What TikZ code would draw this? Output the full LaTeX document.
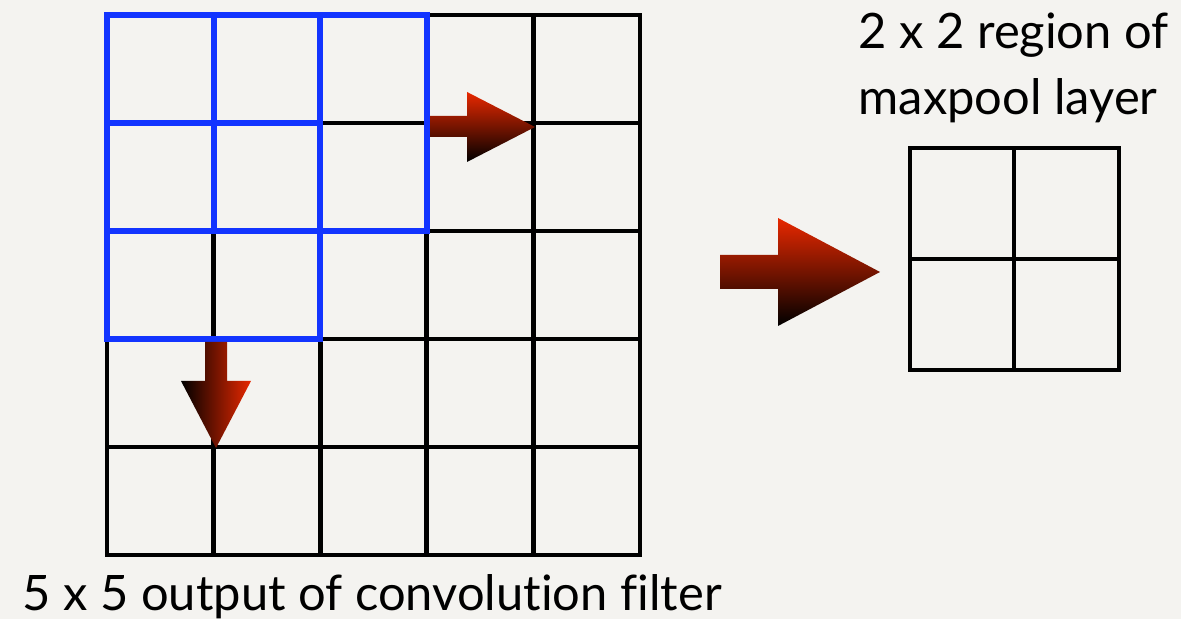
\documentclass[tikz,border=0pt]{standalone}
\usepackage{fontspec}
\setmainfont{Lato}[Ligatures=NoCommon]
\definecolor{paper}{RGB}{244,243,240}
\definecolor{winblue}{RGB}{18,52,255}
\definecolor{arrowred}{RGB}{232,40,0}
\tikzset{
  gridline/.style={line width=1.4pt, line cap=rect},
  window/.style={draw=winblue, line width=1.7pt},
  gradarrow/.style={top color=arrowred, bottom color=black},
  caption/.style={font=\fontsize{13.9}{16}\selectfont, anchor=base west, inner sep=0pt}
}
\begin{document}
\begin{tikzpicture}
  \fill[paper] (0,0) rectangle (11.81,6.19);
  \useasboundingbox (0,0) rectangle (11.81,6.19);
  % convolution output, 5 x 5
  \begin{scope}[shift={(1.07,0.64)}, x=1.066cm, y=1.08cm]
    \foreach \i in {0,...,5} {
      \draw[gridline] (\i,0) -- (\i,5);
      \draw[gridline] (0,\i) -- (5,\i);
    }
    \draw[window] (0,3) rectangle (2,5);
    \draw[window] (1,3) rectangle (3,5);
    \draw[window] (0,2) rectangle (2,4);
  \end{scope}
  % maxpool region, 2 x 2
  \coordinate (P) at (9.10,2.49); \coordinate (Q) at (11.19,4.71);
  \draw[gridline] (P) rectangle (Q);
  \draw[gridline] (10.14,2.49) -- (10.14,4.71);
  \draw[gridline] (9.10,3.60) -- (11.19,3.60);
  % shift arrows
  \shade[gradarrow] (4.30,5.03) -- (4.67,5.03) -- (4.67,5.27) -- (5.35,4.92) -- (4.67,4.57) -- (4.67,4.82) -- (4.30,4.82) -- cycle;
  \shade[left color=black, right color=arrowred] (2.05,2.77) -- (2.27,2.77) -- (2.27,2.38) -- (2.51,2.38) -- (2.16,1.71) -- (1.81,2.38) -- (2.05,2.38) -- cycle;
  \shade[gradarrow] (7.20,3.64) -- (7.78,3.64) -- (7.78,4.01) -- (8.80,3.47) -- (7.78,2.93) -- (7.78,3.30) -- (7.20,3.30) -- cycle;
  % labels
  \node[caption] (pooltop) at (8.58,5.70) {2 x 2 region of};
  \node[caption] (poolbot) at (8.58,5.04) {maxpool layer};
  \node[caption] (convlbl) at (0.22,0.08) {5 x 5 output of convolution filter};
\end{tikzpicture}
\end{document}
